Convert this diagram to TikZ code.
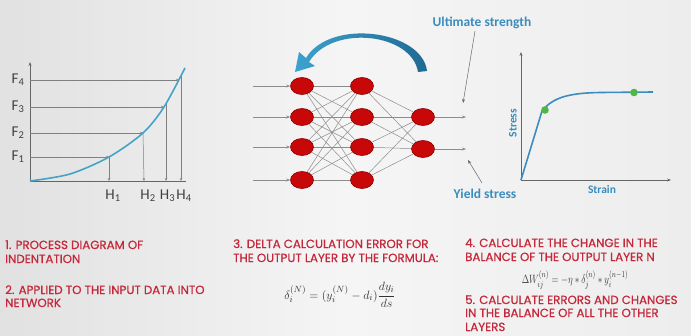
\documentclass[tikz,border=0pt]{standalone}
\usepackage{graphicx}
\usepackage{fontspec}
\setmainfont{Carlito}
\newfontfamily\pop{Poppins}[FakeBold=0.7]
\usetikzlibrary{shapes.geometric,arrows.meta}
\definecolor{bg}{HTML}{EDEDED}
\definecolor{bgl}{HTML}{F5F5F5}
\definecolor{curve}{HTML}{45A3C6}
\definecolor{lblue}{HTML}{3A8DBE}
\definecolor{arcdark}{HTML}{1F6A93}
\definecolor{arclight}{HTML}{3DA2CE}
\definecolor{nred}{HTML}{C80808}
\definecolor{nredd}{HTML}{8E0000}
\definecolor{tred}{HTML}{C4283A}
\definecolor{lgray}{HTML}{8C8C8C}
\definecolor{dot}{HTML}{4DB848}
\begin{document}
\begin{tikzpicture}[x=1pt,y=-1pt,
  neuron/.style={ellipse,fill=nred,draw=nredd,line width=0.6pt,minimum width=23pt,minimum height=17pt,inner sep=0pt},
  link/.style={draw=lgray,line width=0.5pt},
  io/.style={draw=lgray,line width=0.6pt,-{Stealth[length=4pt,width=3pt]}},
  guide/.style={draw=gray,line width=0.5pt},
  axis/.style={draw=gray!80!black,line width=0.8pt},
  step txt/.style={font=\pop\fontsize{11.8}{12}\selectfont,text=tred,anchor=base west,inner sep=0pt},
  flab/.style={font=\fontsize{15}{15}\selectfont,text=black!75,inner sep=0pt},
  blab/.style={font=\bfseries\fontsize{12}{12}\selectfont,text=lblue,inner sep=0pt}]
\useasboundingbox (0,0) rectangle (691,335);
\shade[left color=bg!95!black, right color=bg, middle color=bgl] (0,0) rectangle (691,335);

% ---------- left chart ----------
\coordinate (o1) at (30,181);
\coordinate (ytop1) at (30,62);
\coordinate (xend1) at (186,181);
\draw[axis,-{Stealth[length=4pt,width=3pt]}] (o1) -- (ytop1);
\draw[axis] (o1) -- (xend1);
\coordinate (p1) at (109,157);
\coordinate (p2) at (143,133);
\coordinate (p3) at (164,107);
\coordinate (p4) at (179,80);
\foreach \i/\y in {1/157,2/133,3/107,4/80}{
  \coordinate (fa\i) at (30,\y);
}
\foreach \i in {1,...,4}{
  \draw[guide,-{Stealth[length=3pt,width=2.5pt]}] (fa\i) -- (p\i);
}
\coordinate (h1) at (109,181);
\coordinate (h2) at (144,181);
\coordinate (h3) at (166,181);
\coordinate (h4) at (181,181);
\coordinate (q3) at (166,104);
\coordinate (q4) at (181,76);
\draw[guide,-{Stealth[length=3pt,width=2.5pt]}] (p1) -- (h1);
\draw[guide,-{Stealth[length=3pt,width=2.5pt]}] (p2) -- (h2);
\draw[guide,-{Stealth[length=3pt,width=2.5pt]}] (q3) -- (h3);
\draw[guide,-{Stealth[length=3pt,width=2.5pt]}] (q4) -- (h4);
\draw[curve,line width=1.6pt] plot[smooth] coordinates {(30,181) (70,174) (109,157) (143,133) (164,107) (185,68)};
\node[flab] (F1) at (18,157) {F\textsubscript{1}};
\node[flab] (F2) at (18,133) {F\textsubscript{2}};
\node[flab] (F3) at (18,107) {F\textsubscript{3}};
\node[flab] (F4) at (18,80) {F\textsubscript{4}};
\node[flab] (H1) at (113,196) {H\textsubscript{1}};
\node[flab] (H2) at (148,196) {H\textsubscript{2}};
\node[flab] (H3) at (167.5,196) {H\textsubscript{3}};
\node[flab] (H4) at (184,196) {H\textsubscript{4}};

% ---------- network ----------
\foreach \j/\y in {1/86,2/117,3/147,4/180}{
  \coordinate (a\j) at (302,\y);
  \coordinate (b\j) at (362,\y);
  \coordinate (in\j) at (253,\y);
}
\coordinate (c1) at (423,117);
\coordinate (c2) at (423,149);
\foreach \i in {1,...,4}{\foreach \j in {1,...,4}{\draw[link] (a\i) -- (b\j);}}
\foreach \i in {1,...,4}{\foreach \j in {1,2}{\draw[link] (b\i) -- (c\j);}}
\foreach \j in {1,...,4}{\node[neuron] (na\j) at (a\j) {}; \node[neuron] (nb\j) at (b\j) {};}
\node[neuron] (nc1) at (c1) {}; \node[neuron] (nc2) at (c2) {};
\coordinate (out1) at (466,117);
\coordinate (out2) at (466,149);
\foreach \j in {1,...,4}{\draw[io] (in\j) -- (na\j);}
\draw[io] (nc1) -- (out1);
\draw[io] (nc2) -- (out2);
% feedback arc (tapered arrow)
\shade[left color=arclight, right color=arcdark]
  (427,71) .. controls (422,30) and (330,18) .. (306,58)
  -- (299,52) -- (295,72) -- (315,66) -- (309,62)
  .. controls (332,24) and (412,33) .. (418,72) -- cycle;

% labels
\node[blab,font=\bfseries\fontsize{13.5}{13}\selectfont] (ult) at (482,23) {Ultimate strength};
\node[blab,font=\bfseries\fontsize{13.5}{13}\selectfont] (yld) at (485,194) {Yield stress};
\coordinate (ultS) at (475,31);
\coordinate (ultEnd) at (463,103);
\coordinate (yldS) at (482,183);
\coordinate (yldEnd) at (468,160);
\draw[guide,gray!80!black,-{Stealth[length=4pt,width=3pt]}] (ultS) -- (ultEnd);
\draw[guide,gray!80!black,-{Stealth[length=4pt,width=3pt]}] (yldS) -- (yldEnd);

% ---------- stress strain ----------
\coordinate (o2) at (521,180);
\coordinate (ytop2) at (521,52);
\coordinate (xend2) at (671,180);
\draw[axis,-{Stealth[length=4pt,width=3pt]}] (o2) -- (ytop2);
\draw[axis,-{Stealth[length=4pt,width=3pt]}] (o2) -- (xend2);
\coordinate (yp) at (545,110);
\coordinate (up) at (634,92.5);
\draw[lblue,line width=1.6pt] (o2) -- (542,111) .. controls (553,97) and (570,93) .. (600,92.5) -- (653,92);
\fill[dot] (yp) circle (3.8);
\fill[dot] (up) circle (3.8);
\node[blab,rotate=90,font=\bfseries\fontsize{11.5}{11}\selectfont] (stress) at (513,123) {Stress};
\node[blab,font=\bfseries\fontsize{11.5}{11}\selectfont] (strain) at (602,190) {Strain};

% ---------- text ----------
\node[step txt] (t1) at (5,249) {1. PROCESS DIAGRAM OF};
\node[step txt] (t1b) at (5,263) {INDENTATION};
\node[step txt] (t2) at (5,294) {2. APPLIED TO THE INPUT DATA INTO};
\node[step txt] (t2b) at (5,307) {NETWORK};
\node[step txt] (t3) at (233,248) {3. DELTA CALCULATION ERROR FOR};
\node[step txt] (t3b) at (233,262) {THE OUTPUT LAYER BY THE FORMULA:};
\node[text=black!80,font=\fontsize{13}{13}\selectfont] (eq1) at (340,295) {$\displaystyle\delta_i^{(N)}=(y_i^{(N)}-d_i)\frac{dy_i}{ds}$};
\node[step txt] (t4) at (465,247) {4. CALCULATE THE CHANGE IN THE};
\node[step txt] (t4b) at (465,261) {BALANCE OF THE OUTPUT LAYER N};
\node[text=black!80,font=\fontsize{12.5}{12}\selectfont] (eq2) at (575,280) {\scalebox{0.76}[1]{$\Delta W_{ij}^{(n)}=-\eta*\delta_j^{(n)}*y_i^{(n-1)}$}};
\node[step txt] (t5) at (465,304) {5. CALCULATE ERRORS AND CHANGES};
\node[step txt] (t5b) at (465,317) {IN THE BALANCE OF ALL THE OTHER};
\node[step txt] (t5c) at (465,331) {LAYERS};
\end{tikzpicture}
\end{document}
